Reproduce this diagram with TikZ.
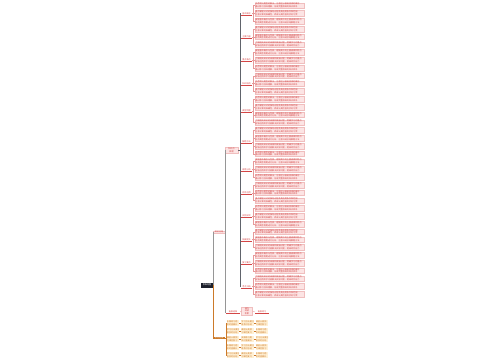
\documentclass[tikz,border=0pt]{standalone}
\usepackage{fontspec}
\newfontfamily\cjk{Noto Sans CJK SC}
\usetikzlibrary{positioning,calc}
\definecolor{myredi}{RGB}{212,70,70}
\definecolor{myredii}{RGB}{252,228,228}
\definecolor{myorangei}{RGB}{204,122,42}
\definecolor{myorangeii}{RGB}{255,240,212}
\definecolor{mygrayi}{RGB}{150,150,150}
\definecolor{mydark}{RGB}{28,32,44}
\newcommand\mmleaf[1]{\ifcase#1
  掌握基本概念与性质，理解其中的主要规律和特点\\结合典型例题进行分析，注意归纳总结解题方法\or
  了解相关知识的来源和发展过程，明确学习的重点\\能够运用所学内容解决实际问题，提高综合能力\or
  熟悉常见题型的解法，注意区分容易混淆的概念\\通过练习加深理解，形成完整清晰的知识体系\or
  重点掌握公式的推导过程及其适用条件和范围\\注意计算的准确性，养成认真检查的良好习惯\fi}
\newcommand\mmcell[1]{\ifcase#1
  学习方法要注\\意及时总结\or
  课前认真预\\习课后复习\or
  多做练习题\\及时查漏补\fi}
\tikzset{
  mindmappic/.style={
    x=1pt,y=-1pt
    ,inner sep=.4pt
    ,outer sep=0pt
    ,font=\cjk\fontsize{2.1}{2.8}\selectfont
  }
  ,rootbox/.style={fill=mydark,text=white,minimum width=12pt,minimum height=5pt}
  ,redbox/.style={draw=myredi!35,line width=.25pt,fill=myredii,text=myredi}
  ,topic/.style={redbox,minimum width=12pt,align=center}
  ,subtopic/.style={text=myredi,minimum width=11pt}
  ,leaf/.style={redbox,text width=48pt,align=left}
  ,orangetopic/.style={fill=myorangei,text=white,minimum width=12pt}
  ,orangebox/.style={fill=myorangeii,text=myorangei,text width=12pt,align=left}
  ,link/.style={draw=mygrayi,line width=.4pt}
  ,darklink/.style={draw=mydark!70,line width=.5pt}
  ,leaflink/.style={draw=myredi!55,line width=.3pt}
  ,orangelink/.style={draw=myorangei,line width=.4pt}
  ,underline/.style={draw=myredi,line width=.3pt}
}
\begin{document}
\begin{tikzpicture}[mindmappic]
  \useasboundingbox (0,0) rectangle (500,360);
  % root and first level
  \node[rootbox] (root) at (207,285) {思维导图};
  \node[topic,anchor=west] (chap) at (213,232) {知识总结};
  \node[orangetopic,anchor=west] (meth) at (213,338) {学习方法};
  \draw[link] (root.east) |- (chap.west);
  \draw[orangelink] (root.east) |- (meth.west);

  % second level
  \node[topic,anchor=west,minimum width=13pt] (part) at (225,150) {知识点\\梳理};
  \node[subtopic,anchor=west,minimum width=14pt] (extra) at (226,312) {拓展延伸};
  \draw[underline] (extra.south west) -- (extra.south east);
  \draw[link] (chap.east) |- (part.west);
  \draw[link] (chap.east) |- (extra.west);

  % sections and their leaves
  \foreach \g/\s/\n/\lbl in {1/0/3/基本概念,2/3/3/主要内容,3/6/3/重点难点,
    4/9/3/知识结构,5/12/4/典型例题,6/16/4/解题方法,7/20/3/易错分析,
    8/23/3/综合运用,9/26/3/实验探究,10/29/3/拓展提升,11/32/3/复习要点,
    12/35/3/考点归纳}{
    \pgfmathsetmacro\cy{5.5+(\s+(\n-1)/2)*7.8}
    \node[subtopic,anchor=west] (sec\g) at (241,\cy) {\lbl};
    \draw[underline] (sec\g.south west) -- (sec\g.south east);
    \draw[darklink] (part.east) -- ++(2,0) |- (sec\g.west);
    \foreach \i in {1,...,\n}{
      \pgfmathsetmacro\ly{5.5+(\s+\i-1)*7.8}
      \pgfmathtruncatemacro\v{mod(\g+\i,4)}
      \node[leaf,anchor=west] (leaf\g-\i) at (255,\ly) {\mmleaf{\v}};
      \draw[leaflink] (sec\g.east) -- ++(1.5,0) |- (leaf\g-\i.west);
    }
  }

  % extension branch
  \node[redbox,anchor=west,text width=10pt,align=center] (extrabox) at (241.5,311) {课外\\阅读\\积累};
  \node[subtopic,anchor=west,minimum width=14pt] (extraleaf) at (255,312) {拓展练习};
  \draw[underline] (extraleaf.south west) -- (extraleaf.south east);
  \draw[leaflink] (extra.east) -- (extrabox.west);
  \draw[leaflink] (extrabox.east) -- (extraleaf.west);

  % method grid
  \foreach \r in {1,...,5}{
    \pgfmathsetmacro\oy{323+(\r-1)*8}
    \foreach \c/\ox in {1/226.5,2/241,3/255.5}{
      \pgfmathtruncatemacro\w{mod(\r+\c,3)}
      \node[orangebox,anchor=west] (cell\r-\c) at (\ox,\oy) {\mmcell{\w}};
    }
    \draw[orangelink] (meth.east) -- ++(.8,0) |- (cell\r-1.west);
    \draw[orangelink] (cell\r-1.east) -- (cell\r-2.west);
    \draw[orangelink] (cell\r-2.east) -- (cell\r-3.west);
  }
\end{tikzpicture}
\end{document}
